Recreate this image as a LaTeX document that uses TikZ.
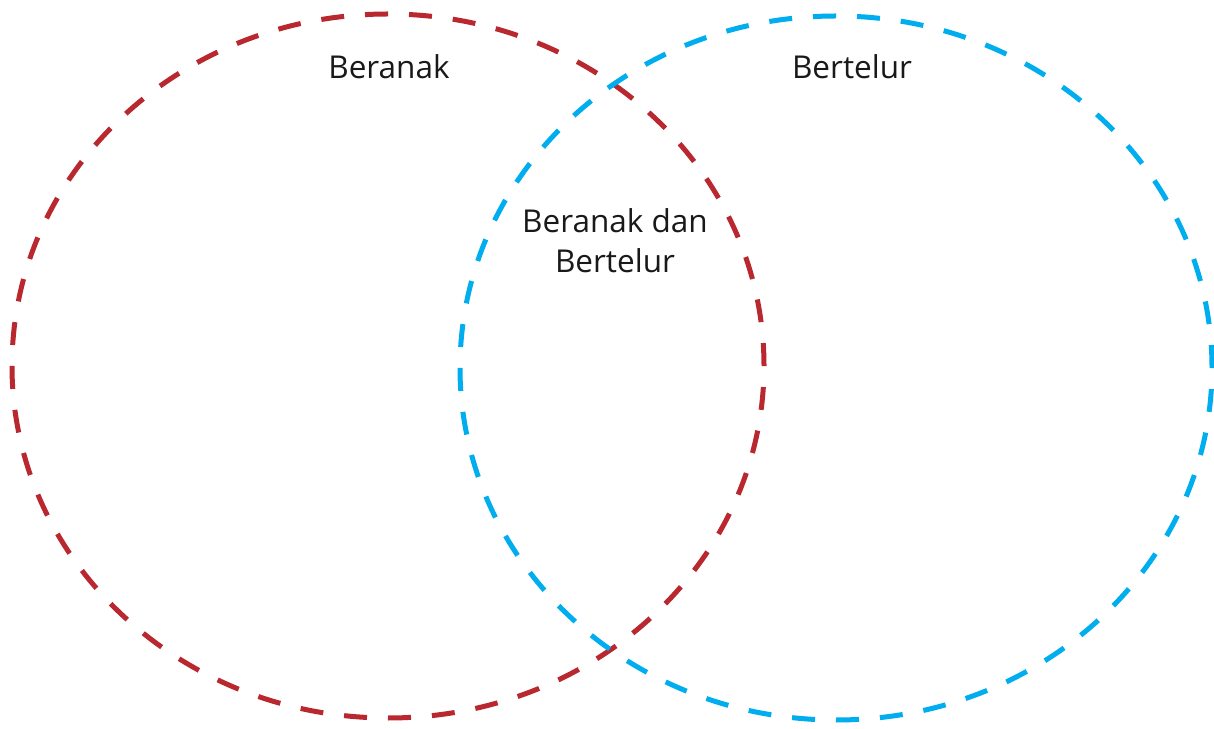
\documentclass[tikz,border=0pt]{standalone}
\usepackage{fontspec}
\setmainfont{Open Sans}
\definecolor{cred}{HTML}{B8282E}
\definecolor{cblue}{HTML}{00AEEF}
\begin{document}
\begin{tikzpicture}[x=1pt,y=1pt,
  ring/.style={line width=5pt, dash pattern=on 23pt off 21pt},
  lbl/.style={font=\fontsize{31.5}{40}\selectfont, text=black!90, align=center}]
\useasboundingbox (0,0) rectangle (1214,728);
\draw[ring, cred] (388,362) ellipse [x radius=376, y radius=352];
\draw[ring, cblue] (836,360) ellipse [x radius=376, y radius=352];
\node[lbl] (a) at (389,661) {Beranak};
\node[lbl] (b) at (852,661) {Bertelur};
\node[lbl] (c) at (615,487) {Beranak dan\\Bertelur};
\end{tikzpicture}
\end{document}
